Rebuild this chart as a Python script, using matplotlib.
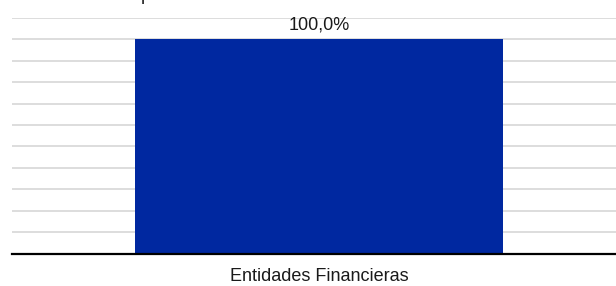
import numpy as np
import matplotlib.pyplot as plt

plt.rcParams['font.family'] = ['Liberation Sans', 'DejaVu Sans']

# Data
categories = ['Entidades Financieras']
values = [1.0]
value_labels = ['100,0%']

BarColor = '#0028A0'
GridColor = '#dddddd'

fig = plt.figure(figsize=(6.16, 2.86), dpi=100)
ax = fig.add_axes([12/616, (286-253.7)/286, (616-12)/616, (253.7-17.7)/286])

x = np.arange(len(categories))
bars = ax.bar(x, values, width=1.0, color=BarColor, zorder=3)

for rect, lab in zip(bars, value_labels):
    ax.annotate(lab, (rect.get_x() + rect.get_width()/2, rect.get_height()),
                xytext=(0, 4), textcoords='offset points',
                ha='center', va='bottom', fontsize=13, color='#1a1a1a')

ax.set_xlim(-0.835, 0.808)
ax.set_ylim(0, 1.1)
ax.set_yticks(np.arange(0, 1.11, 0.1))
ax.yaxis.grid(True, color=GridColor, linewidth=1.4, zorder=0)
ax.tick_params(axis='y', left=False, labelleft=False)
ax.tick_params(axis='x', bottom=False, pad=6.5, labelsize=13, labelcolor='#1a1a1a')
ax.set_xticks(x)
ax.set_xticklabels(categories)

for s in ['top', 'right', 'left']:
    ax.spines[s].set_visible(False)
ax.spines['bottom'].set_color('black')
ax.spines['bottom'].set_linewidth(1.6)
ax.spines['bottom'].set_zorder(4)

# cut-off title fragment at top
fig.text(141/616, 1.0, 'p', ha='left', va='baseline', fontsize=13, color='#1a1a1a')

fig.savefig('out.png', dpi=100)
